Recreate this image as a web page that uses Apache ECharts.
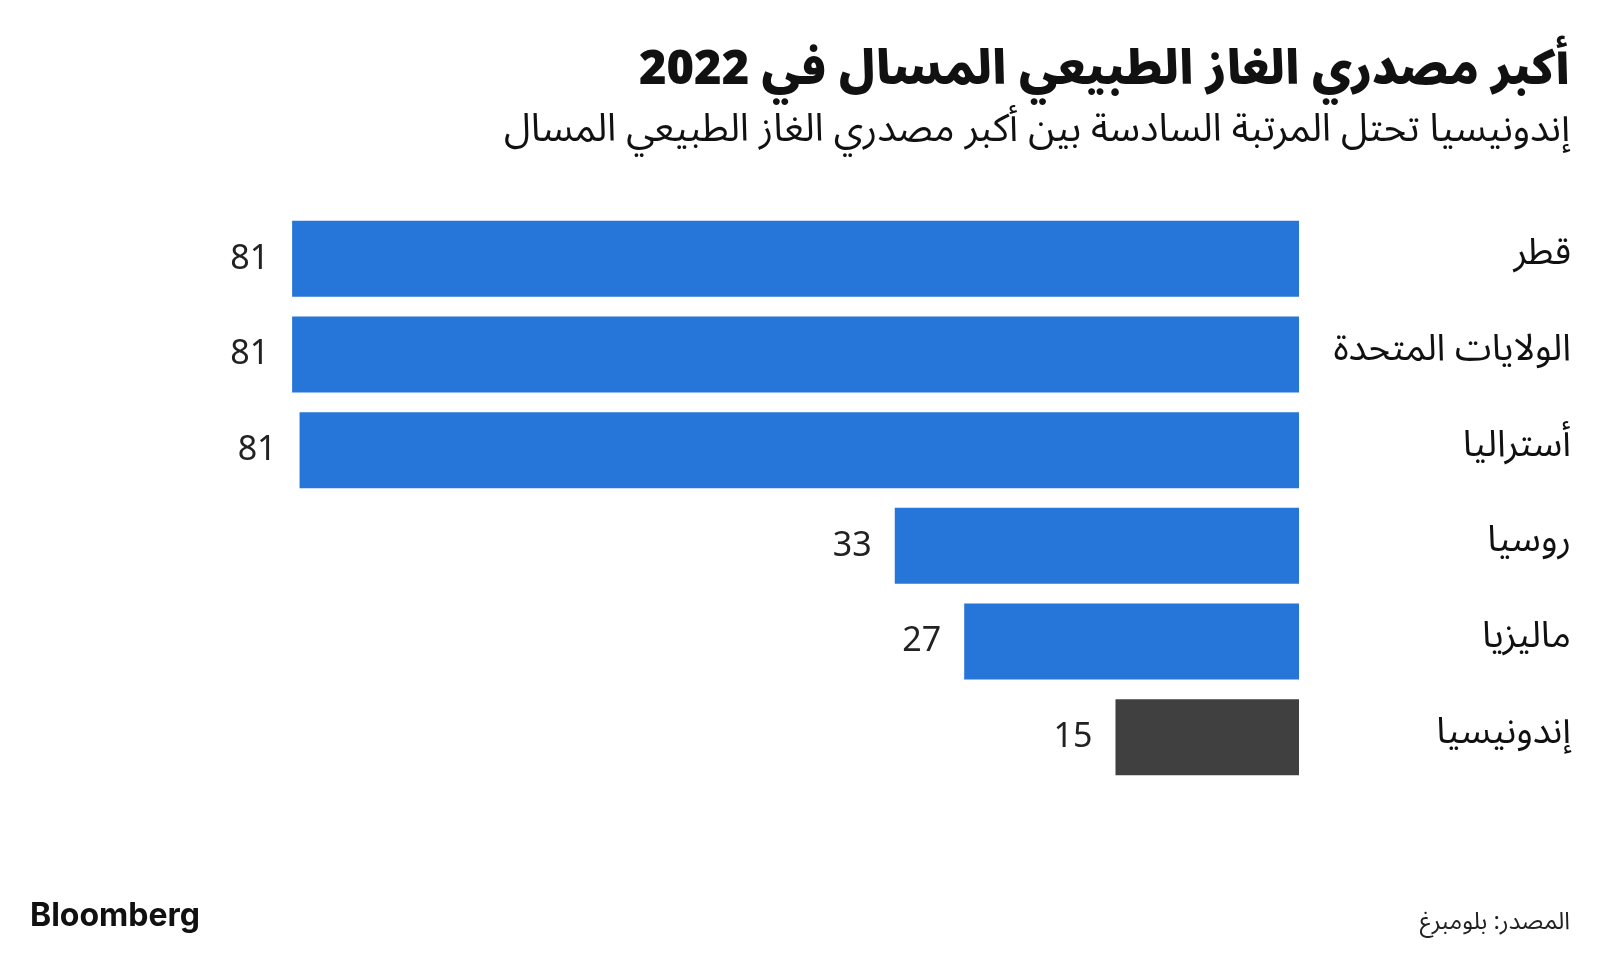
<!DOCTYPE html>
<html>
<head>
<meta charset="utf-8">
<style>
  html, body { margin: 0; padding: 0; background: #ffffff; }
  #chart { width: 1600px; height: 954px; }
</style>
<script src="https://cdn.jsdelivr.net/npm/echarts@6/dist/echarts.min.js"></script>
</head>
<body>
<div id="chart" dir="rtl"></div>
<script>
// الدول المصدرة (من الأعلى إلى الأسفل)
var countries = ['قطر', 'الولايات المتحدة', 'أستراليا', 'روسيا', 'ماليزيا', 'إندونيسيا'];
// صادرات الغاز الطبيعي المسال 2022 (مليون طن تقريبا)
var exportsMt = [81.2, 81.2, 80.6, 32.6, 27.0, 14.8];
var highlight = 'إندونيسيا';

var arabicFont = '"Noto Sans Arabic", "DejaVu Sans", sans-serif';

var barData = [];
for (var i = 0; i < countries.length; i++) {
  barData.push({
    value: exportsMt[i],
    itemStyle: { color: countries[i] == highlight ? '#404040' : '#2675d9' }
  });
}

var myChart = echarts.init(document.getElementById('chart'));
var option = {
  backgroundColor: '#ffffff',
  animation: false,
  title: [{
    text: 'أكبر مصدري الغاز الطبيعي المسال في 2022',
    right: 25,
    top: 48,
    textStyle: { fontFamily: arabicFont, fontSize: 47, fontWeight: 900, color: '#111111' }
  }, {
    text: 'إندونيسيا تحتل المرتبة السادسة بين أكبر مصدري الغاز الطبيعي المسال',
    right: 25,
    top: 111,
    textStyle: { fontFamily: arabicFont, fontSize: 38.6, fontWeight: 'normal', color: '#111111' }
  }, {
    text: 'Bloomberg',
    left: 25,
    top: 895,
    textStyle: { fontFamily: 'Inter, Roboto, sans-serif', fontSize: 32, fontWeight: 700, color: '#111111' }
  }, {
    text: 'المصدر: بلومبرغ',
    right: 25,
    top: 908,
    textStyle: { fontFamily: arabicFont, fontSize: 24, fontWeight: 'normal', color: '#222222' }
  }],
  grid: { left: 245, right: 301, top: 211, bottom: 169, containLabel: false },
  xAxis: {
    type: 'value',
    min: 0,
    max: 85,
    inverse: true,
    show: false
  },
  yAxis: {
    type: 'category',
    data: countries,
    inverse: true,
    position: 'right',
    axisLine: { show: false },
    axisTick: { show: false },
    axisLabel: {
      align: 'right',
      margin: 272,
      fontFamily: arabicFont,
      fontSize: 37,
      color: '#111111'
    }
  },
  series: [{
    type: 'bar',
    data: barData,
    barWidth: 76,
    label: {
      show: true,
      position: 'left',
      distance: 23,
      fontFamily: '"Noto Sans", sans-serif',
      fontSize: 34,
      color: '#222222',
      formatter: function(p) { return Math.round(p.value); }
    }
  }]
};
myChart.setOption(option);
</script>
</body>
</html>
